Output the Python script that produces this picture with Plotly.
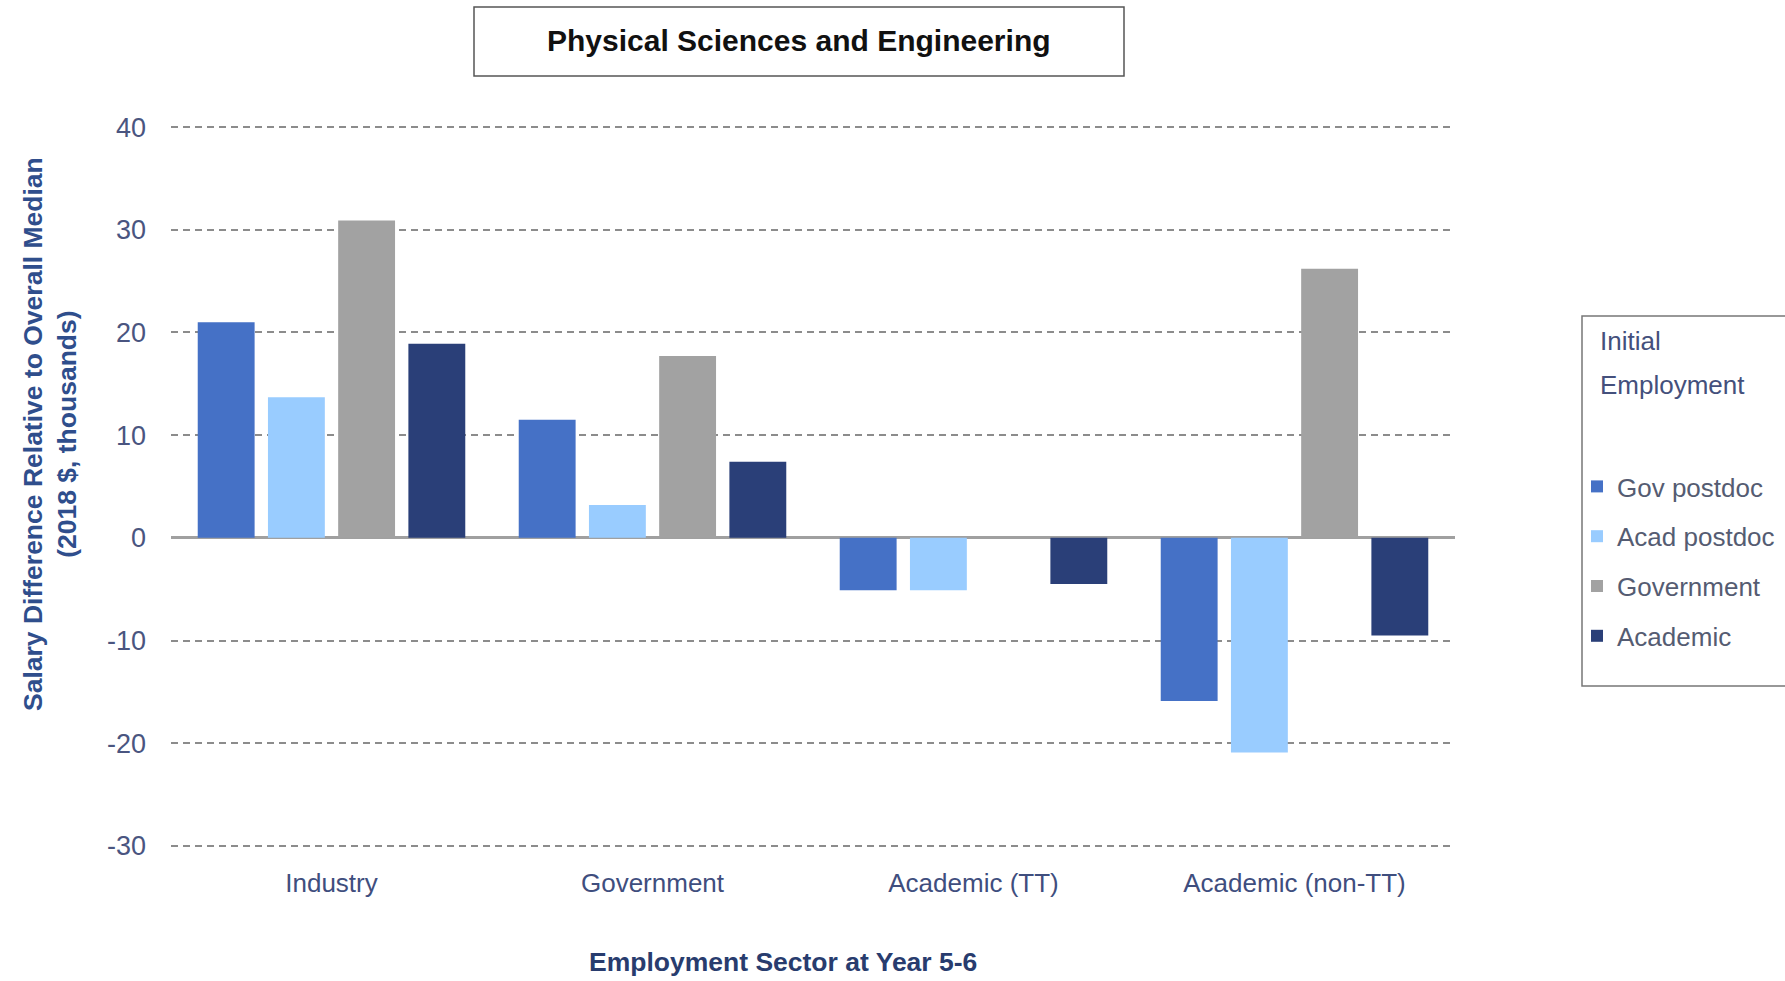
import plotly.graph_objects as go

# ---- data ----
sectors = ["Industry", "Government", "Academic (TT)", "Academic (non-TT)"]
gov_postdoc = [21.0, 11.5, -5.1, -15.9]
acad_postdoc = [13.7, 3.2, -5.1, -20.9]
government = [30.9, 17.7, None, 26.2]
academic = [18.9, 7.4, -4.5, -9.5]

series_names = ["Gov postdoc", "Acad postdoc", "Government", "Academic"]
series_values = [gov_postdoc, acad_postdoc, government, academic]
series_colors = ["#4571C6", "#99CCFF", "#A2A2A2", "#2A3F78"]

y_tickvals = [-30, -20, -10, 0, 10, 20, 30, 40]
y_ticktext = ["-30", "-20", "-10", "0", "10", "20", "30", "40"]

FONT = "Liberation Sans, Arial, sans-serif"

# ---- layout geometry (pixels) ----
W, H = 1785, 981
ML, MR, MT, MB = 171, 330, 122, 130
PW = W - ML - MR
PH = H - MT - MB


def px_x(x):
    return (x - ML) / PW


def px_y(y):
    return (H - MB - y) / PH


fig = go.Figure()
for i, (name, vals, col) in enumerate(zip(series_names, series_values, series_colors)):
    fig.add_trace(go.Bar(
        x=sectors, y=vals, name=name, legendgroup=name,
        marker=dict(color=col, line=dict(width=0)),
    ))

fig.update_layout(
    width=W, height=H,
    margin=dict(l=ML, r=MR, t=MT, b=MB, autoexpand=False),
    paper_bgcolor="white", plot_bgcolor="white",
    barmode="group", bargap=0.125, bargroupgap=0.19,
    font=dict(family=FONT, size=26, color="#3F4E7E"),
    showlegend=True,
    legend=dict(
        x=px_x(1577), y=px_y(463), xanchor="left", yanchor="top",
        font=dict(family=FONT, size=26, color="#555C72"),
        bgcolor="rgba(0,0,0,0)", borderwidth=0,
        traceorder="grouped", tracegroupgap=13,
    ),
    xaxis=dict(
        showgrid=False, showline=False, zeroline=False,
        tickfont=dict(family=FONT, size=26, color="#3F4E7E"),
        ticks="", ticklabelstandoff=14,
    ),
    yaxis=dict(
        range=[-30.5, 40.5],
        tickvals=y_tickvals, ticktext=y_ticktext,
        showgrid=True, gridcolor="#8C8C8C", gridwidth=1.5, griddash="7px,5px",
        zeroline=True, zerolinecolor="#A0A0A0", zerolinewidth=2.5,
        showline=False, ticks="", ticklabelstandoff=24,
        tickfont=dict(family=FONT, size=27, color="#4A5580"),
    ),
)

# title box
fig.add_shape(type="rect", xref="paper", yref="paper",
              x0=px_x(474), x1=px_x(1124), y0=px_y(76), y1=px_y(7),
              line=dict(color="#555555", width=1.5), fillcolor="white", layer="above")
fig.add_annotation(text="Physical Sciences and Engineering", xref="paper", yref="paper",
                   x=px_x(799), y=px_y(41), xanchor="center", yanchor="middle",
                   showarrow=False, font=dict(family=FONT, size=30, color="#111111", weight="bold"))

# y axis title
fig.add_annotation(text="Salary Difference Relative to Overall Median<br>(2018 $, thousands)",
                   xref="paper", yref="paper", x=px_x(50), y=px_y(434),
                   xanchor="center", yanchor="middle", textangle=-90, showarrow=False,
                   font=dict(family=FONT, size=26.5, color="#2F4E8C", weight="bold"))

# x axis title
fig.add_annotation(text="Employment Sector at Year 5-6", xref="paper", yref="paper",
                   x=px_x(783), y=px_y(962), xanchor="center", yanchor="middle",
                   showarrow=False, font=dict(family=FONT, size=26.5, color="#283C6E", weight="bold"))

# legend box and title
fig.add_shape(type="rect", xref="paper", yref="paper",
              x0=px_x(1582), x1=px_x(1800), y0=px_y(686), y1=px_y(316),
              line=dict(color="#777777", width=1.5), layer="below")
fig.add_annotation(text="Initial", xref="paper", yref="paper",
                   x=px_x(1598), y=px_y(341), xanchor="left", yanchor="middle",
                   showarrow=False, font=dict(family=FONT, size=26, color="#44507C"))
fig.add_annotation(text="Employment", xref="paper", yref="paper",
                   x=px_x(1598), y=px_y(385), xanchor="left", yanchor="middle",
                   showarrow=False, font=dict(family=FONT, size=26, color="#44507C"))

fig.write_html("out.html", post_script="document.body.style.margin='0';",
               config={"displayModeBar": False})
